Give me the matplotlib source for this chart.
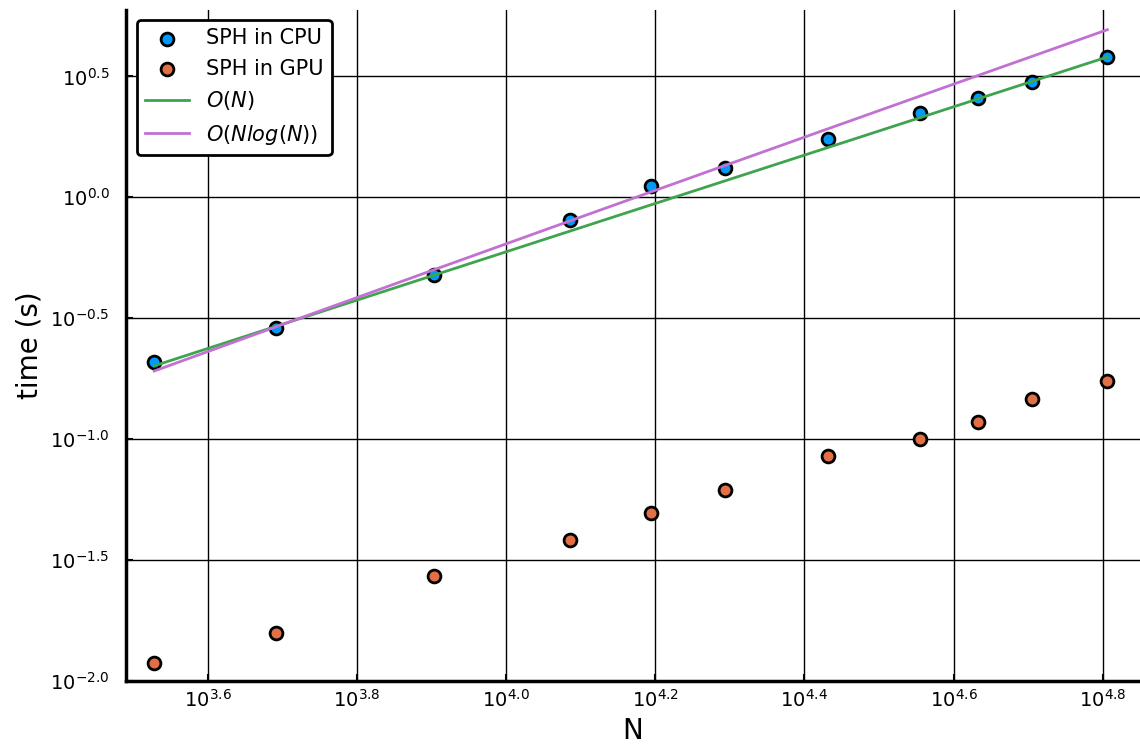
import numpy as np
import matplotlib.pyplot as plt
from matplotlib.ticker import FixedLocator, FuncFormatter, NullLocator

plt.rcParams['font.family'] = 'DejaVu Sans'
plt.rcParams['mathtext.fontset'] = 'dejavusans'

# particle counts (cubic lattices) and measured run times in seconds
side = np.array([15, 17, 20, 23, 25, 27, 30, 33, 35, 37, 40])
N = side ** 3
cpu_time = [0.209, 0.289, 0.475, 0.803, 1.11, 1.32, 1.74, 2.23, 2.57, 3.00, 3.81]
gpu_time = [0.0118, 0.0158, 0.0270, 0.0381, 0.0493, 0.0614, 0.0850, 0.100, 0.1177, 0.1466, 0.174]

# reference complexity curves
c_lin = 5.95e-5
c_nlogn = 6.97e-6
x_ticks = [3.6, 3.8, 4.0, 4.2, 4.4, 4.6, 4.8]
y_ticks = [-2.0, -1.5, -1.0, -0.5, 0.0, 0.5]

fig = plt.figure(figsize=(11.4, 7.54), dpi=100)
ax = fig.add_axes([0.1105, 0.0972, 0.8895, 0.8895])

ax.scatter(N, cpu_time, s=85, color='#009AFA', edgecolor='black', linewidth=2,
           label='SPH in CPU', zorder=3)
ax.scatter(N, gpu_time, s=85, color='#E36F47', edgecolor='black', linewidth=2,
           label='SPH in GPU', zorder=3)
ax.plot(N, c_lin * N, color='#3EA44E', lw=2, label=r'$O(N)$', zorder=4)
ax.plot(N, c_nlogn * N * np.log(N), color='#C271D2', lw=2, label=r'$O(Nlog(N))$', zorder=4)

ax.set_xscale('log')
ax.set_yscale('log')
ax.set_xlim(10 ** 3.4905, 10 ** 4.850)
ax.set_ylim(10 ** -2.0, 10 ** 0.775)

ax.xaxis.set_major_locator(FixedLocator([10 ** v for v in x_ticks]))
ax.yaxis.set_major_locator(FixedLocator([10 ** v for v in y_ticks]))
ax.xaxis.set_minor_locator(NullLocator())
ax.yaxis.set_minor_locator(NullLocator())
fmt = FuncFormatter(lambda v, pos: r'$\mathregular{10^{%.1f}}$' % np.log10(v))
ax.xaxis.set_major_formatter(fmt)
ax.yaxis.set_major_formatter(fmt)

ax.grid(True, color='black', lw=1, zorder=0)
ax.set_axisbelow(True)
for side_name in ['top', 'right']:
    ax.spines[side_name].set_visible(False)
for side_name in ['left', 'bottom']:
    ax.spines[side_name].set_linewidth(2.5)
ax.tick_params(axis='x', direction='in', length=5, width=1.5, labelsize=14, pad=6)
ax.tick_params(axis='y', direction='in', length=5, width=1.5, labelsize=14, pad=12)

ax.set_xlabel('N', fontsize=20, labelpad=4)
ax.set_ylabel('time (s)', fontsize=20, labelpad=5)

leg = ax.legend(loc='upper left', fontsize=15, frameon=True, fancybox=True,
                edgecolor='black', framealpha=1, borderpad=0.4, labelspacing=0.5,
                handlelength=2.1, handletextpad=0.8, borderaxespad=0,
                bbox_to_anchor=(0.0108, 0.985))
leg.get_frame().set_linewidth(2)

fig.savefig('out.png', dpi=100)
